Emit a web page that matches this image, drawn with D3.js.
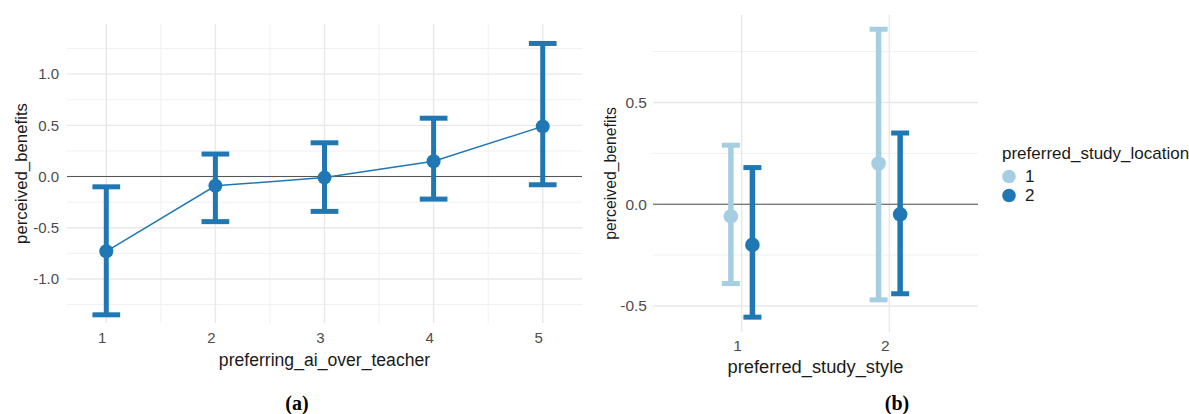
<!DOCTYPE html>
<html>
<head>
<meta charset="utf-8">
<script src="https://cdn.jsdelivr.net/npm/d3@7"></script>
<style>
  body { margin: 0; background: #fff; }
  svg { display: block; font-family: "Liberation Sans", Arial, sans-serif; }
  .tick-label { fill: #4d4d4d; }
  .axis-title { fill: #1a1a1a; }
  .caption { font-family: "Liberation Serif", "DejaVu Serif", serif; font-weight: bold; fill: #000; }
</style>
</head>
<body>
<div id="chart"></div>
<script>
// panel (a): perceived_benefits by preferring_ai_over_teacher
const aLevels = [1, 2, 3, 4, 5];
const aMean = [-0.73, -0.09, -0.01, 0.15, 0.49];
const aLow = [-1.35, -0.44, -0.34, -0.22, -0.08];
const aHigh = [-0.10, 0.22, 0.33, 0.57, 1.30];
const aYTicks = [-1.0, -0.5, 0.0, 0.5, 1.0];

// panel (b): perceived_benefits by preferred_study_style and preferred_study_location
const bStyles = ["1", "2"];
const bLocations = ["1", "2"];
const bMeanLoc1 = [-0.06, 0.20];
const bLowLoc1 = [-0.39, -0.47];
const bHighLoc1 = [0.29, 0.86];
const bMeanLoc2 = [-0.20, -0.05];
const bLowLoc2 = [-0.555, -0.44];
const bHighLoc2 = [0.18, 0.35];
const bYTicks = [-0.5, 0.0, 0.5];

const blue = "#1f78b4";
const lightBlue = "#a6cee3";

const svg = d3.select("#chart").append("svg")
  .attr("width", 1189)
  .attr("height", 414);

function grid(g, x, y, xMajor, xMinor, yMajor, yMinor) {
  const [x0, x1] = x.range();
  const [y1, y0] = y.range();
  g.selectAll(".ymin").data(yMinor).enter().append("line")
    .attr("x1", x0).attr("x2", x1)
    .attr("y1", d => y(d)).attr("y2", d => y(d))
    .attr("stroke", "#f0f0f0").attr("stroke-width", 1);
  g.selectAll(".xmin").data(xMinor).enter().append("line")
    .attr("y1", y0).attr("y2", y1)
    .attr("x1", d => x(d)).attr("x2", d => x(d))
    .attr("stroke", "#f0f0f0").attr("stroke-width", 1);
  g.selectAll(".ymaj").data(yMajor).enter().append("line")
    .attr("x1", x0).attr("x2", x1)
    .attr("y1", d => y(d)).attr("y2", d => y(d))
    .attr("stroke", "#e8e8e8").attr("stroke-width", 1.4);
  g.selectAll(".xmaj").data(xMajor).enter().append("line")
    .attr("y1", y0).attr("y2", y1)
    .attr("x1", d => x(d)).attr("x2", d => x(d))
    .attr("stroke", "#e8e8e8").attr("stroke-width", 1.4);
}

// ---------- panel (a) ----------
const ax = d3.scaleLinear().domain([0.64, 5.36]).range([67, 582]);
const ay = d3.scaleLinear().domain([-1.43, 1.49]).range([323, 24]);
const ga = svg.append("g");

grid(ga, ax, ay,
  aLevels, d3.range(1.5, 5, 1),
  aYTicks, [-1.25, -0.75, -0.25, 0.25, 0.75, 1.25]);

// zero line
ga.append("line")
  .attr("x1", ax.range()[0]).attr("x2", ax.range()[1])
  .attr("y1", ay(0)).attr("y2", ay(0))
  .attr("stroke", "#555").attr("stroke-width", 1.1);

const aData = aLevels.map((l, i) => ({l, m: aMean[i], lo: aLow[i], hi: aHigh[i]}));
const capA = 0.127;

ga.append("path")
  .datum(aData)
  .attr("fill", "none")
  .attr("stroke", blue)
  .attr("stroke-width", 1.5)
  .attr("d", d3.line().x(d => ax(d.l)).y(d => ay(d.m)));

const ea = ga.selectAll(".err").data(aData).enter().append("g");
ea.append("line")
  .attr("x1", d => ax(d.l)).attr("x2", d => ax(d.l))
  .attr("y1", d => ay(d.lo)).attr("y2", d => ay(d.hi))
  .attr("stroke", blue).attr("stroke-width", 5);
ea.append("line")
  .attr("x1", d => ax(d.l - capA)).attr("x2", d => ax(d.l + capA))
  .attr("y1", d => ay(d.hi)).attr("y2", d => ay(d.hi))
  .attr("stroke", blue).attr("stroke-width", 5);
ea.append("line")
  .attr("x1", d => ax(d.l - capA)).attr("x2", d => ax(d.l + capA))
  .attr("y1", d => ay(d.lo)).attr("y2", d => ay(d.lo))
  .attr("stroke", blue).attr("stroke-width", 5);
ea.append("circle")
  .attr("cx", d => ax(d.l)).attr("cy", d => ay(d.m))
  .attr("r", 7).attr("fill", blue);

ga.selectAll(".yt").data(aYTicks).enter().append("text")
  .attr("class", "tick-label")
  .attr("x", 59).attr("y", d => ay(d))
  .attr("dy", "0.35em").attr("text-anchor", "end")
  .attr("font-size", 15)
  .text(d => d3.format(".1f")(d).replace("−", "-"));
ga.selectAll(".xt").data(aLevels).enter().append("text")
  .attr("class", "tick-label")
  .attr("x", d => ax(d) - 4).attr("y", 338)
  .attr("dy", "0.35em").attr("text-anchor", "middle")
  .attr("font-size", 15)
  .text(d => d);
ga.append("text").attr("class", "axis-title")
  .attr("x", (ax.range()[0] + ax.range()[1]) / 2).attr("y", 360)
  .attr("dy", "0.35em").attr("text-anchor", "middle")
  .attr("font-size", 17.6)
  .text("preferring_ai_over_teacher");
ga.append("text").attr("class", "axis-title")
  .attr("transform", `translate(21,${(ay.range()[0] + ay.range()[1]) / 2}) rotate(-90)`)
  .attr("dy", "0.35em").attr("text-anchor", "middle")
  .attr("font-size", 16.8)
  .text("perceived_benefits");
svg.append("text").attr("class", "caption")
  .attr("x", 297).attr("y", 403).attr("dy", "0.35em")
  .attr("text-anchor", "middle").attr("font-size", 20)
  .text("(a)");

// ---------- panel (b) ----------
const bx = d3.scaleLinear().domain([0.4, 2.6]).range([653, 978]);
const by = d3.scaleLinear().domain([-0.628, 0.93]).range([332, 15]);
const gb = svg.append("g");

grid(gb, bx, by, [1, 2], [], bYTicks, [-0.25, 0.25, 0.75]);

gb.append("line")
  .attr("x1", bx.range()[0]).attr("x2", bx.range()[1])
  .attr("y1", by(0)).attr("y2", by(0))
  .attr("stroke", "#555").attr("stroke-width", 1.1);

const dodge = 0.073;
const capB = 0.061;
const bData = [];
bStyles.forEach((s, i) => {
  bData.push({s: i + 1, loc: bLocations[0], off: -dodge, m: bMeanLoc1[i], lo: bLowLoc1[i], hi: bHighLoc1[i], c: lightBlue});
  bData.push({s: i + 1, loc: bLocations[1], off: dodge, m: bMeanLoc2[i], lo: bLowLoc2[i], hi: bHighLoc2[i], c: blue});
});

const eb = gb.selectAll(".err").data(bData).enter().append("g");
eb.append("line")
  .attr("x1", d => bx(d.s + d.off)).attr("x2", d => bx(d.s + d.off))
  .attr("y1", d => by(d.lo)).attr("y2", d => by(d.hi))
  .attr("stroke", d => d.c).attr("stroke-width", 5.5);
eb.append("line")
  .attr("x1", d => bx(d.s + d.off - capB)).attr("x2", d => bx(d.s + d.off + capB))
  .attr("y1", d => by(d.hi)).attr("y2", d => by(d.hi))
  .attr("stroke", d => d.c).attr("stroke-width", 5);
eb.append("line")
  .attr("x1", d => bx(d.s + d.off - capB)).attr("x2", d => bx(d.s + d.off + capB))
  .attr("y1", d => by(d.lo)).attr("y2", d => by(d.lo))
  .attr("stroke", d => d.c).attr("stroke-width", 5);
eb.append("circle")
  .attr("cx", d => bx(d.s + d.off)).attr("cy", d => by(d.m))
  .attr("r", 7.3).attr("fill", d => d.c);

gb.selectAll(".yt").data(bYTicks).enter().append("text")
  .attr("class", "tick-label")
  .attr("x", 647).attr("y", d => by(d))
  .attr("dy", "0.35em").attr("text-anchor", "end")
  .attr("font-size", 15.5)
  .text(d => d3.format(".1f")(d).replace("−", "-"));
gb.selectAll(".xt").data(bStyles).enter().append("text")
  .attr("class", "tick-label")
  .attr("x", (d, i) => bx(i + 1) - 4).attr("y", 346)
  .attr("dy", "0.35em").attr("text-anchor", "middle")
  .attr("font-size", 15.5)
  .text(d => d);
gb.append("text").attr("class", "axis-title")
  .attr("x", (bx.range()[0] + bx.range()[1]) / 2).attr("y", 367)
  .attr("dy", "0.35em").attr("text-anchor", "middle")
  .attr("font-size", 18.3)
  .text("preferred_study_style");
gb.append("text").attr("class", "axis-title")
  .attr("transform", `translate(610,${(by.range()[0] + by.range()[1]) / 2}) rotate(-90)`)
  .attr("dy", "0.35em").attr("text-anchor", "middle")
  .attr("font-size", 15.8)
  .text("perceived_benefits");

// legend
const lg = svg.append("g").attr("transform", "translate(1002,153)");
lg.append("text").attr("class", "axis-title")
  .attr("x", 0).attr("y", 0).attr("dy", "0.35em")
  .attr("font-size", 17)
  .text("preferred_study_location");
const items = lg.selectAll(".item").data(bLocations).enter().append("g")
  .attr("transform", (d, i) => `translate(0,${23.5 + i * 19})`);
items.append("circle")
  .attr("cx", 7).attr("cy", 0).attr("r", 6.8)
  .attr("fill", (d, i) => i === 0 ? lightBlue : blue);
items.append("text").attr("class", "axis-title")
  .attr("x", 23).attr("y", 0).attr("dy", "0.35em")
  .attr("font-size", 17)
  .text(d => d);

svg.append("text").attr("class", "caption")
  .attr("x", 897).attr("y", 403).attr("dy", "0.35em")
  .attr("text-anchor", "middle").attr("font-size", 20)
  .text("(b)");
</script>
</body>
</html>
